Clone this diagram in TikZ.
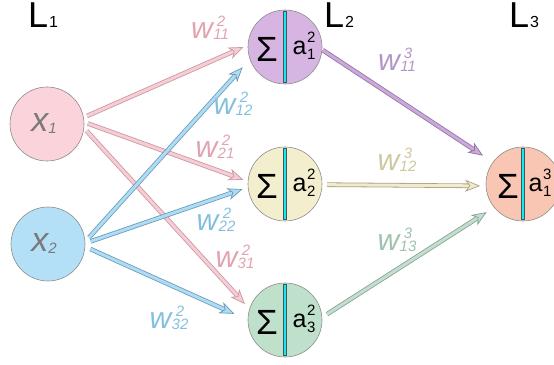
\documentclass[tikz,border=0pt]{standalone}
\usepackage{fontspec}
\setmainfont{Liberation Sans}
\usetikzlibrary{arrows.meta}
\definecolor{pinkfill}{HTML}{FBD3DA}
\definecolor{bluefill}{HTML}{B3E0F7}
\definecolor{purplefill}{HTML}{D7B5E2}
\definecolor{yellowfill}{HTML}{F3EECD}
\definecolor{greenfill}{HTML}{BFE0CB}
\definecolor{orangefill}{HTML}{F9C6B4}
\definecolor{nodeline}{HTML}{8C8C8C}
\definecolor{barcyan}{HTML}{19E6F0}
\definecolor{bardark}{HTML}{3A5A60}
\definecolor{pinkL}{HTML}{F7CDD5}\definecolor{pinkD}{HTML}{C9979F}
\definecolor{blueL}{HTML}{AEDCF4}\definecolor{blueD}{HTML}{6A9AB8}
\definecolor{purpL}{HTML}{CBAADB}\definecolor{purpD}{HTML}{8F73A0}
\definecolor{yellL}{HTML}{F1EBCB}\definecolor{yellD}{HTML}{A9A383}
\definecolor{greenL}{HTML}{C3DDCE}\definecolor{greenD}{HTML}{82A291}
\definecolor{pinkT}{HTML}{E0A3AF}
\definecolor{blueT}{HTML}{84C0DE}
\definecolor{purpT}{HTML}{B395C8}
\definecolor{yellT}{HTML}{CFC79D}
\definecolor{greenT}{HTML}{9EC2AD}
\definecolor{xgray}{HTML}{7A7A7A}
\newsavebox\lbox
\newcommand\wl[2]{{\fontsize{30}{30}\selectfont w}\kern0.5pt\sbox\lbox{\fontsize{15}{15}\selectfont #2}\rlap{\makebox[\wd\lbox][c]{\raisebox{12pt}{\fontsize{15}{15}\selectfont #1}}}\raisebox{-1pt}{\usebox\lbox}}
\newcommand\al[2]{{\fontsize{25}{25}\selectfont a}\kern0.5pt\sbox\lbox{\fontsize{15}{15}\selectfont #2}\rlap{\raisebox{12pt}{\fontsize{15}{15}\selectfont #1}}\raisebox{-5pt}{\usebox\lbox}}
\newcommand\Ll[1]{{\fontsize{36}{36}\selectfont L}\kern1pt{\fontsize{16}{16}\selectfont #1}}
\newcommand\xl[1]{x\raisebox{-2pt}{\fontsize{15}{15}\selectfont #1}}
\begin{document}
\begin{tikzpicture}[x=1pt,y=1pt,
  neuron/.style={circle, draw=nodeline, line width=0.6pt, minimum size=74pt, inner sep=0pt, outer sep=0pt},
  xlab/.style={font=\fontsize{34}{34}\selectfont\itshape, text=xgray, inner sep=0pt},
  sig/.style={font=\fontsize{35}{35}\selectfont, inner sep=0pt},
  alab/.style={inner sep=0pt},
  wlab/.style={font=\itshape, inner sep=0pt},
  layer/.style={anchor=base west, inner sep=0pt},
  barst/.style={fill=barcyan, draw=bardark, line width=0.4pt},
  sg/.code={\def\sgap{#1}\tikzset{shorten <=#1}},
  eg/.code={\def\egap{#1}\tikzset{shorten >=#1}},
  conn/.style 2 args={draw=#1, line width=3pt,
    preaction={draw=#2, line width=4.6pt, arrows=-, shorten <=\sgap, shorten >=\egap+8pt},
    -{Stealth[length=15pt,width=12pt,inset=4.5pt,fill=#1,color=#2,line width=0.7pt]}},
  sg=4pt, eg=5pt]
\useasboundingbox (0,0) rectangle (554,364);
% neurons
\node[neuron, fill=pinkfill] (x1) at (47,240) {};
\node[neuron, fill=bluefill] (x2) at (48,120) {};
\node[neuron, fill=purplefill] (s1) at (285,317) {};
\node[neuron, fill=yellowfill] (s2) at (285,180) {};
\node[neuron, fill=greenfill] (s3) at (285,44) {};
\node[neuron, fill=orangefill] (o) at (523,180) {};
% bars
\foreach \n in {s1,s2,s3,o}{
  \draw[barst] ([xshift=-1.6pt,yshift=-35.5pt]\n.center) rectangle ([xshift=1.6pt,yshift=35.5pt]\n.center);
}
% node contents
\node[xlab] (tx1) at (44,240) {\xl{1}};
\node[xlab] (tx2) at (44,120) {\xl{2}};
\node[sig] (g1) at ([shift={(-18,-2)}]s1.center) {Σ};
\node[sig] (g2) at ([shift={(-18,-2)}]s2.center) {Σ};
\node[sig] (g3) at ([shift={(-18,-2)}]s3.center) {Σ};
\node[sig] (g4) at ([shift={(-15,-2)}]o.center) {Σ};
\node[alab] (a1) at ([shift={(19,1)}]s1.center) {\al{2}{1}};
\node[alab] (a2) at ([shift={(19,1)}]s2.center) {\al{2}{2}};
\node[alab] (a3) at ([shift={(19,1)}]s3.center) {\al{2}{3}};
\node[alab] (a4) at ([shift={(17,1)}]o.center) {\al{3}{1}};
% connectors layer 1 -> 2
\draw[conn={pinkL}{pinkD}, sg=4pt, eg=5pt] (x1.10) -- (s1.177);
\draw[conn={pinkL}{pinkD}, sg=4pt, eg=5pt] (x1.3) -- (s2.176);
\draw[conn={pinkL}{pinkD}, sg=4pt, eg=7pt] (x1.-6) -- (s3.163);
\draw[conn={blueL}{blueD}, sg=6pt, eg=11pt] (x2.3) -- (s1.199);
\draw[conn={blueL}{blueD}, sg=6pt, eg=6pt] (x2.1) -- (s2.185);
\draw[conn={blueL}{blueD}, sg=6pt, eg=15pt] (x2.-4) -- (s3.180);
% connectors layer 2 -> 3
\draw[conn={purpL}{purpD}, sg=1pt, eg=12pt] (s1.-4) -- (o.144);
\draw[conn={yellL}{yellD}, sg=5pt, eg=6pt] (s2.-1) -- (o.183);
\draw[conn={greenL}{greenD}, sg=6pt, eg=9pt] (s3.4) -- (o.219);
% weight labels
\node[wlab, text=pinkT] (w211) at (210,336) {\wl{2}{11}};
\node[wlab, text=blueT] (w212) at (233,260) {\wl{2}{12}};
\node[wlab, text=pinkT] (w221) at (215,217) {\wl{2}{21}};
\node[wlab, text=blueT] (w222) at (216,144) {\wl{2}{22}};
\node[wlab, text=pinkT] (w231) at (235,107) {\wl{2}{31}};
\node[wlab, text=blueT] (w232) at (169,46) {\wl{2}{32}};
\node[wlab, text=purpT] (w311) at (397,304) {\wl{3}{11}};
\node[wlab, text=yellT] (w312) at (397,204) {\wl{3}{12}};
\node[wlab, text=greenT] (w313) at (397,124) {\wl{3}{13}};
% layer labels
\node[layer] (L1) at (28,336) {\Ll{1}};
\node[layer] (L2) at (324,336) {\Ll{2}};
\node[layer] (L3) at (509,336) {\Ll{3}};
\end{tikzpicture}
\end{document}
